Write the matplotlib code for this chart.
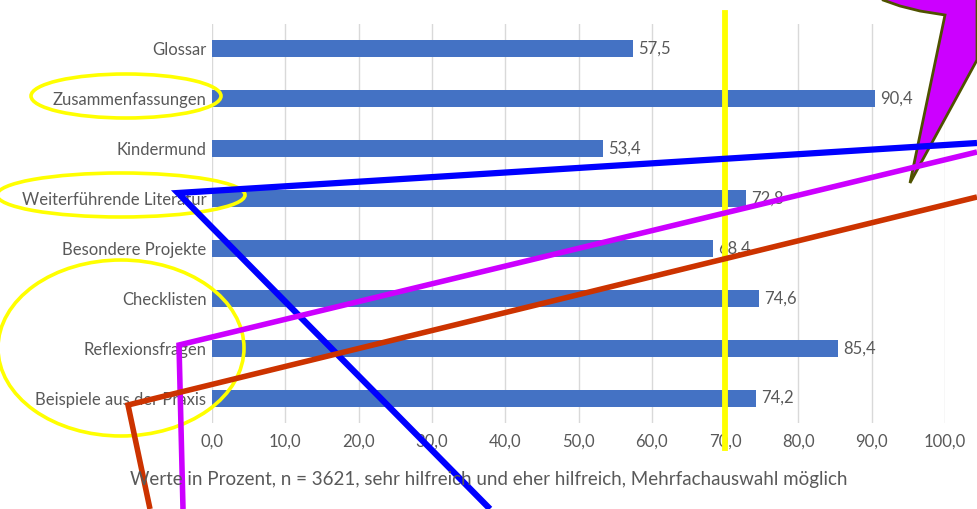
import numpy as np
import matplotlib.pyplot as plt
from matplotlib.patches import Ellipse, Polygon

plt.rcParams['font.family'] = ['Lato', 'DejaVu Sans']

# data (top to bottom as shown)
categories = ['Glossar', 'Zusammenfassungen', 'Kindermund', 'Weiterführende Literatur',
              'Besondere Projekte', 'Checklisten', 'Reflexionsfragen', 'Beispiele aus der Praxis']
values = [57.5, 90.4, 53.4, 72.8, 68.4, 74.6, 85.4, 74.2]
xticks = np.arange(0, 101, 10)
xlabel = 'Werte in Prozent, n = 3621, sehr hilfreich und eher hilfreich, Mehrfachauswahl möglich'
threshold = 70

# hand-drawn overlay marks, in pixel coords of the 977x509 image
ellipses = [((126, 96), 190, 44), ((121, 195), 248, 44), ((121, 348), 246, 176)]
blue_line = [(977, 143), (178, 193), (490, 509)]
magenta_line = [(977, 152), (179, 345), (183, 509)]
red_line = [(977, 197), (128, 405), (150, 509)]
burst = [(878, -8), (883, 0), (900, 6), (920, 11), (945, 15), (910, 183), (977, 60), (977, -8)]

grey = '#595959'
W, H = 977, 509
fig = plt.figure(figsize=(W / 100, H / 100), dpi=100)
ax = fig.add_axes([212 / W, 1 - 423 / H, (945 - 212) / W, (423 - 24) / H])

y = np.arange(len(categories))
ax.barh(y, values, height=0.34, color='#4472C4', zorder=3)
for yi, v in zip(y, values):
    ax.text(v + 0.7, yi, f'{v:.1f}'.replace('.', ','), va='center', ha='left',
            fontsize=12, color=grey, zorder=4)

ax.set_ylim(len(categories) - 0.5, -0.5)
ax.set_xlim(0, 100)
ax.set_yticks(y)
ax.set_yticklabels(categories, fontsize=12, color=grey)
ax.set_xticks(xticks)
ax.set_xticklabels([f'{t:.1f}'.replace('.', ',') for t in xticks], fontsize=12, color=grey)
ax.tick_params(length=0, axis='x', pad=8)
ax.tick_params(length=0, axis='y', pad=4)
ax.grid(axis='x', color='#D9D9D9', linewidth=1, zorder=0)
for s in ax.spines.values():
    s.set_visible(False)

fig.text(0.5, 1 - 480 / H, xlabel, ha='center', va='center', fontsize=13.5, color=grey)

# yellow threshold line
trans = ax.get_xaxis_transform()
ax.plot([threshold, threshold], [(423 - 448) / 399, (423 - 13) / 399], transform=trans,
        color='#FFFF00', linewidth=4.2, clip_on=False, zorder=5)

# overlay for the annotations
ov = fig.add_axes([0, 0, 1, 1], facecolor='none')
ov.set_xlim(0, W)
ov.set_ylim(H, 0)
ov.axis('off')
for c, w, h in ellipses:
    ov.add_patch(Ellipse(c, w, h, fill=False, edgecolor='#FFFF00', linewidth=2.6))
for pts, col, lw in [(blue_line, '#0000FF', 4.5), (magenta_line, '#CC00FF', 4),
                     (red_line, '#CC3300', 4)]:
    xs, ys = zip(*pts)
    ov.plot(xs, ys, color=col, linewidth=lw, solid_joinstyle='miter', solid_capstyle='butt')
ov.add_patch(Polygon(burst, closed=True, facecolor='#CC00FF', edgecolor='#4F5200',
                     linewidth=2, joinstyle='miter'))

fig.savefig('out.png', dpi=100)
